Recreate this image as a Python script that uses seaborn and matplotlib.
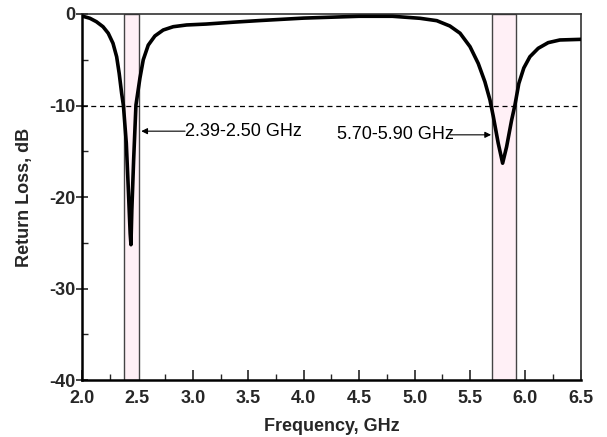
import matplotlib
matplotlib.use("Agg")
import matplotlib.pyplot as plt
import seaborn as sns
from matplotlib.ticker import MultipleLocator

# Data
freq = [2.00, 2.072, 2.13, 2.19, 2.237, 2.28, 2.313, 2.336, 2.358, 2.374, 2.40, 2.42,
        2.435, 2.442, 2.45, 2.466, 2.487, 2.523, 2.553, 2.598, 2.658, 2.733, 2.823,
        2.944, 3.12, 3.36, 3.6, 4.0, 4.5, 4.8, 5.048, 5.20, 5.318, 5.41, 5.50, 5.574,
        5.634, 5.68, 5.71, 5.754, 5.794, 5.83, 5.875, 5.905, 5.94, 5.985, 6.04, 6.115,
        6.205, 6.31, 6.50]
return_loss = [-0.22, -0.47, -0.84, -1.39, -2.1, -3.2, -4.67, -6.5, -8.67, -10.0, -14.1, -19.6,
               -24.0, -25.2, -21.4, -16.0, -9.95, -7.0, -5.0, -3.4, -2.4, -1.75, -1.39,
               -1.2, -1.1, -0.9, -0.72, -0.45, -0.25, -0.25, -0.47, -0.73, -1.31, -2.1, -3.57, -5.4,
               -7.4, -9.4, -11.2, -14.1, -16.3, -14.5, -11.6, -9.95, -7.6, -5.9, -4.67, -3.75,
               -3.13, -2.84, -2.77]
bands = [(2.378, 2.515), (5.695, 5.911)]
band_labels = ["2.39-2.50 GHz", "5.70-5.90 GHz"]
threshold = -10

sns.set_style("ticks")
plt.rcParams['font.family'] = ['Liberation Sans', 'DejaVu Sans']
plt.rcParams['axes.unicode_minus'] = False

fig = plt.figure(figsize=(6.07, 4.37), dpi=100)
ax = fig.add_axes([0.135, 0.130, 0.822, 0.838])

for lo, hi in bands:
    ax.axvspan(lo, hi, facecolor='#fff0f6', edgecolor='#444444', lw=1.0, zorder=1)

ax.axhline(threshold, ls=(0, (4, 3)), color='black', lw=0.9, zorder=2)

sns.lineplot(x=freq, y=return_loss, ax=ax, color='black', lw=2.6, zorder=3,
             solid_joinstyle='round', solid_capstyle='round')

# annotations
ax.annotate('', xy=(2.535, -12.8), xytext=(2.93, -12.8),
            arrowprops=dict(arrowstyle='-|>', lw=0.8, color='black', mutation_scale=9,
                            shrinkA=0, shrinkB=0))
ax.text(2.93, -12.8, band_labels[0], ha='left', va='center', fontsize=13, color='black')
ax.annotate('', xy=(5.69, -13.2), xytext=(5.32, -13.2),
            arrowprops=dict(arrowstyle='-|>', lw=0.8, color='black', mutation_scale=9,
                            shrinkA=0, shrinkB=0))
ax.text(4.30, -13.2, band_labels[1], ha='left', va='center', fontsize=13, color='black')

ax.set_xlim(2.0, 6.5)
ax.set_ylim(-40, 0)
ax.xaxis.set_major_locator(MultipleLocator(0.5))
ax.xaxis.set_minor_locator(MultipleLocator(0.25))
ax.yaxis.set_major_locator(MultipleLocator(10))
ax.yaxis.set_minor_locator(MultipleLocator(5))
ax.set_xticklabels([f"{v:.1f}" for v in ax.get_xticks()])

ax.tick_params(axis='x', which='major', direction='in', length=7, width=1.2, pad=7,
               labelsize=13, top=False)
ax.tick_params(axis='x', which='minor', direction='in', length=4, width=1.0, top=False)
ax.tick_params(axis='y', which='major', direction='inout', length=8, width=1.2, pad=1,
               labelsize=13, right=False)
ax.tick_params(axis='y', which='minor', direction='in', length=4, width=1.0, right=False)
for lbl in ax.get_xticklabels() + ax.get_yticklabels():
    lbl.set_fontweight('bold')

for side in ['left', 'bottom']:
    ax.spines[side].set_linewidth(1.8)
    ax.spines[side].set_color('black')
for side in ['top', 'right']:
    ax.spines[side].set_visible(True)
    ax.spines[side].set_linewidth(1.2)
    ax.spines[side].set_color('#333333')

ax.set_xlabel('Frequency, GHz', fontsize=13, fontweight='bold', labelpad=8)
ax.set_ylabel('Return Loss, dB', fontsize=13, fontweight='bold', labelpad=11)

fig.savefig('out.png', dpi=100)
